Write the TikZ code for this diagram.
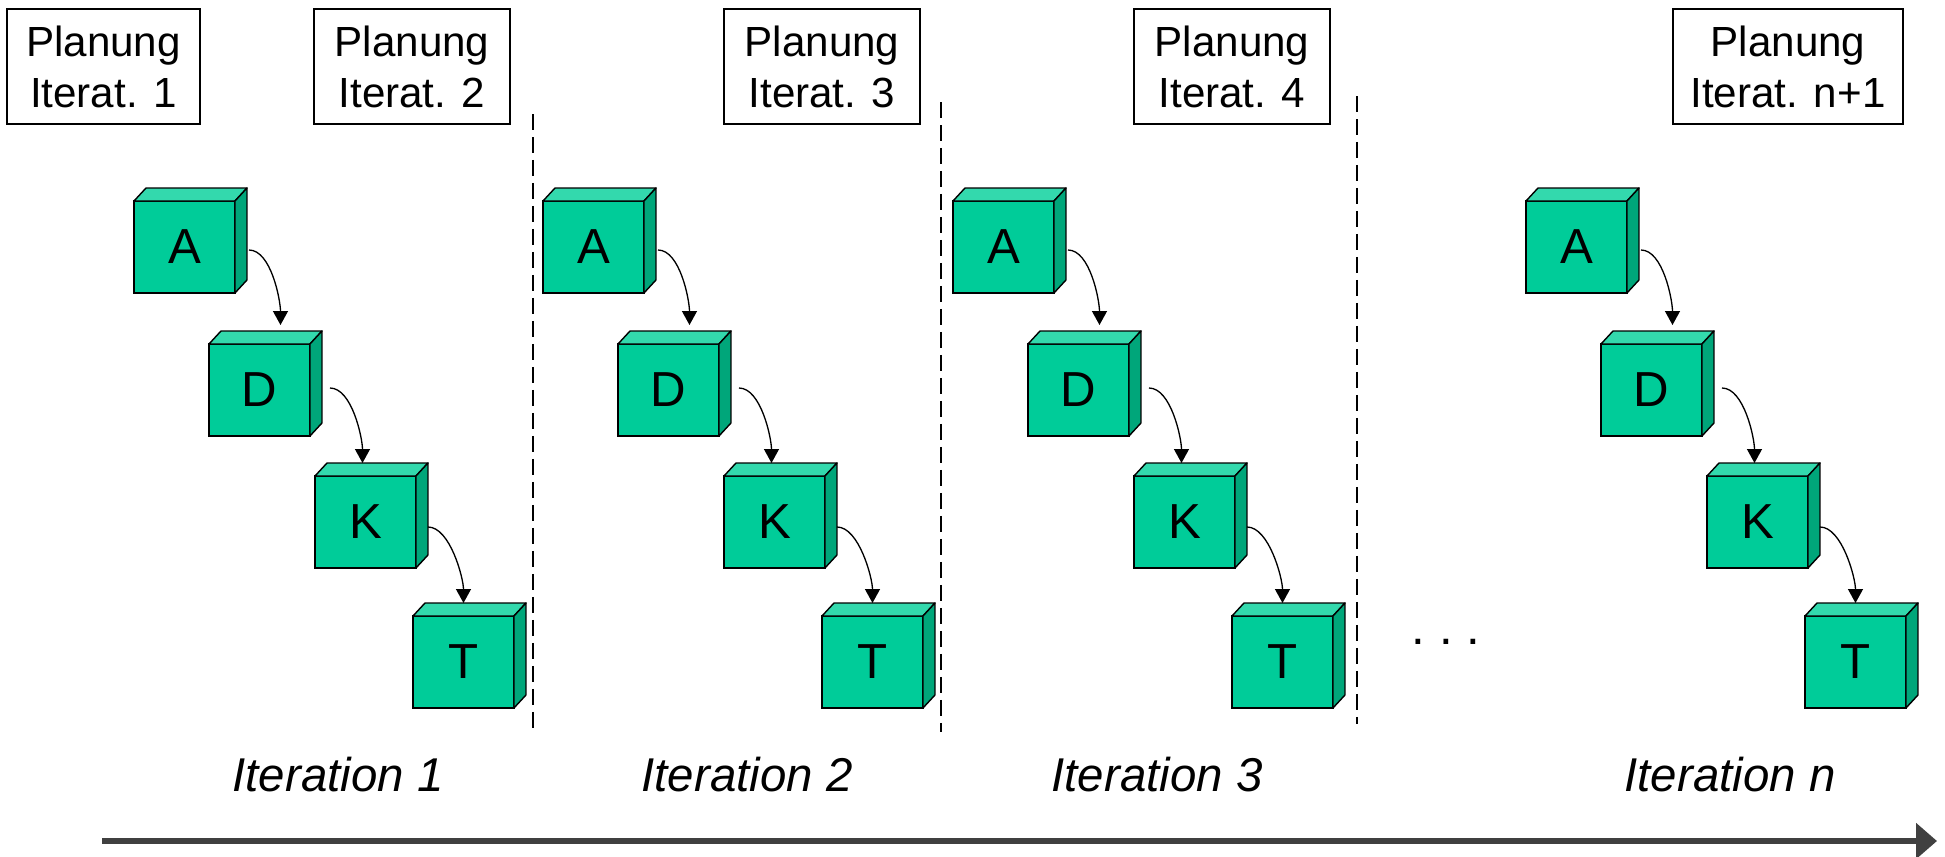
\documentclass[tikz,border=0pt]{standalone}
\usepackage{fontspec}
\setmainfont{Liberation Sans}
\usepackage{tikz}
\usetikzlibrary{calc}
\usetikzlibrary{arrows.meta}
\usetikzlibrary{positioning}

\definecolor{cubefront}{RGB}{0,204,153}
\definecolor{cubetop}{RGB}{51,217,173}
\definecolor{cubeside}{RGB}{0,166,122}

\begin{document}
\begin{tikzpicture}[x=0.02cm,y=-0.02cm,
	cube/.style={draw=black,line width=0.8pt,fill=cubefront,anchor=north west,inner sep=0pt,outer sep=0pt,minimum width=2.02cm,minimum height=1.84cm,font=\fontsize{28}{30}\selectfont},
	face/.style={draw=black,line width=0.8pt,line join=round},
	planbox/.style={draw=black,line width=0.7pt,fill=white,align=center,inner sep=0pt,minimum height=2.3cm,font=\fontsize{24}{29}\selectfont},
	itlabel/.style={anchor=base,font=\fontsize{27}{30}\selectfont\itshape},
	flow/.style={line width=0.75pt,-{Triangle[length=0.28cm,width=0.3cm]}},
	sep/.style={line width=1pt,dash pattern=on 0.32cm off 0.14cm}]
	\useasboundingbox (0,0) rectangle (1945,856);
	% planning boxes
	\node[planbox,minimum width=3.86cm] (plan1) at (103.5,66.5) {Planung\\Iterat. 1};
	\node[planbox,minimum width=3.92cm] (plan2) at (412,66.5) {Planung\\Iterat. 2};
	\node[planbox,minimum width=3.92cm] (plan3) at (822,66.5) {Planung\\Iterat. 3};
	\node[planbox,minimum width=3.92cm] (plan4) at (1232,66.5) {Planung\\Iterat. 4};
	\node[planbox,minimum width=4.6cm] (plann) at (1788,66.5) {Planung\\Iterat. n+1};
	% separators
	\draw[sep] (533,114) -- (533,732);
	\draw[sep] (941,102) -- (941,732);
	\draw[sep] (1357,96) -- (1357,724);
	% one staircase of tasks per iteration
	\foreach \ox/\iter in {0/1,409/2,819/3,1392/n}{
		\foreach \tsk/\cx/\cy in {A/134/201,D/209/344,K/315/476,T/413/616}{
			\node[cube] (\tsk\iter) at (\ox+\cx,\cy) {\tsk};
			\filldraw[face,fill=cubetop] (\tsk\iter.north west) -- ++(12,-13) -- ($(\tsk\iter.north east)+(12,-13)$) -- (\tsk\iter.north east) -- cycle;
			\filldraw[face,fill=cubeside] (\tsk\iter.north east) -- ++(12,-13) -- ($(\tsk\iter.south east)+(12,-13)$) -- (\tsk\iter.south east) -- cycle;
		}
		\foreach \from/\to/\sx/\sy/\ex/\ey in {A/D/14/3/21/-19,D/K/20/-2/-3/-13,K/T/12/5/0/-13}
			\draw[flow] ($(\from\iter.east)+(\sx,\sy)$) .. controls +(22,0) and +(0,-25) .. ($(\to\iter.north)+(\ex,\ey)$);
		\node[itlabel] (lab\iter) at (\ox+338,791) {Iteration \iter};
	}
	\node[anchor=base,font=\fontsize{28}{30}\selectfont] (dots) at (1446,644) {.\ .\ .};
	% time axis
	\coordinate (t0) at (102,841);
	\coordinate (t1) at (1937,841);
	\draw[line width=3.4pt,black!75,-{Triangle[length=0.42cm,width=0.7cm]}] (t0) -- (t1);
\end{tikzpicture}
\end{document}
